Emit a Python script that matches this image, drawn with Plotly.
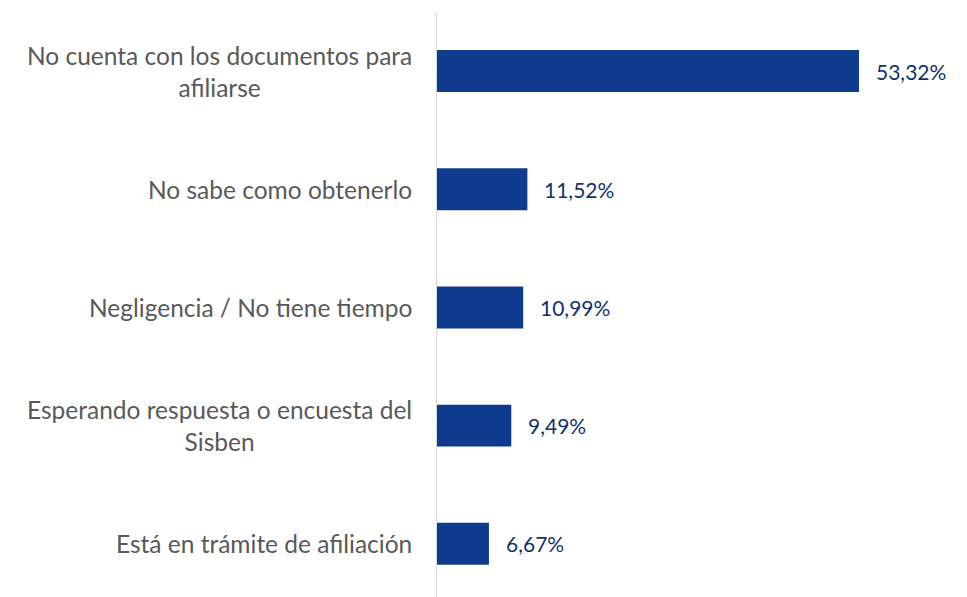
import plotly.graph_objects as go

categories = [
    "No cuenta con los documentos para<br>afiliarse",
    "No sabe como obtenerlo",
    "Negligencia / No tiene tiempo",
    "Esperando respuesta o encuesta del<br>Sisben",
    "Está en trámite de afiliación",
]
values = [53.32, 11.52, 10.99, 9.49, 6.67]
value_labels = ["53,32%", "11,52%", "10,99%", "9,49%", "6,67%"]

BAR = "#0E3B8E"
fig = go.Figure(go.Bar(
    x=values, y=categories, orientation="h",
    marker=dict(color=BAR, line=dict(width=0)),
    width=0.355, hoverinfo="skip",
))

annotations = []
for c, v, t in zip(categories, values, value_labels):
    annotations.append(dict(x=v, y=c, xref="x", yref="y", text=t, showarrow=False,
                            xanchor="left", xshift=15,
                            font=dict(family="Lato, Carlito, sans-serif", size=21, color="#12306E")))
    annotations.append(dict(x=0, y=c, xref="paper", yref="y", text=c, showarrow=False,
                            xanchor="right", xshift=-22, align="center",
                            font=dict(family="Lato, Carlito, sans-serif", size=24.5, color="#595959")))

fig.update_layout(
    width=959, height=589,
    margin=dict(l=428, r=55, t=4, b=0),
    paper_bgcolor="white", plot_bgcolor="white",
    showlegend=False,
    annotations=annotations,
    xaxis=dict(range=[0, 60], visible=False, fixedrange=True),
    yaxis=dict(type="category", categoryorder="array", categoryarray=categories,
               range=[4.45, -0.5], showticklabels=False, ticks="",
               showgrid=False, zeroline=False, showline=False),
    shapes=[dict(type="line", xref="x", yref="paper", x0=0, x1=0, y0=0, y1=1,
                 line=dict(color="#D9D9D9", width=2), layer="above")],
)

fig.write_html("out.html")
